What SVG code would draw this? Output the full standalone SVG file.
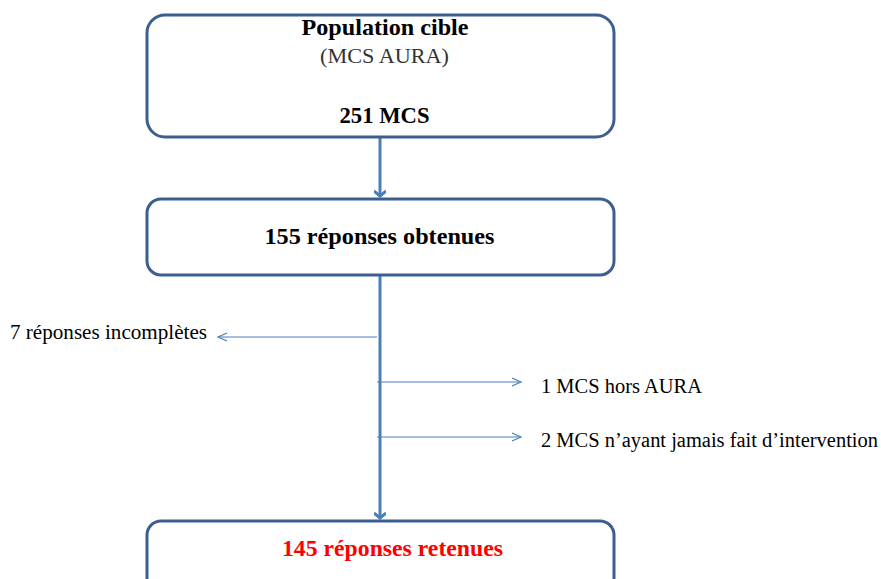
<svg xmlns="http://www.w3.org/2000/svg" width="881" height="579" viewBox="0 0 881 579">
<style>
.box{fill:#fff;stroke:#3d5f8f;stroke-width:3}
.t{font-family:"Liberation Serif",serif;fill:#000}
.b{font-weight:bold;font-size:23px}
.s{font-size:20px}
.main{stroke:#4a7ebb;stroke-width:3;fill:none}
.thin{stroke:#4a7ebb;stroke-width:1.2;fill:none}
</style>
<defs>
<marker id="ah" markerWidth="12" markerHeight="12" refX="6" refY="6" orient="auto" markerUnits="userSpaceOnUse" viewBox="0 0 12 12">
<path d="M1,0 L6,6 L1,12" fill="none" stroke="#4a7ebb" stroke-width="3"/>
</marker>
<marker id="as" markerWidth="12" markerHeight="12" refX="10" refY="5" orient="auto" markerUnits="userSpaceOnUse" viewBox="0 0 12 10">
<path d="M1,1 L10,5 L1,9" fill="none" stroke="#4a7ebb" stroke-width="1.2"/>
</marker>
</defs>
<g id="connectors">
<line class="main" x1="380" y1="138" x2="380" y2="196" marker-end="url(#ah)"/>
<line class="main" x1="380" y1="276" x2="380" y2="518" marker-end="url(#ah)"/>
<line class="thin" x1="377" y1="337" x2="218" y2="337" marker-end="url(#as)"/>
<line class="thin" x1="377" y1="382" x2="521" y2="382" marker-end="url(#as)"/>
<line class="thin" x1="377" y1="437" x2="521" y2="437" marker-end="url(#as)"/>
</g>
<g id="n1">
<rect class="box" x="147" y="15" width="467" height="122" rx="18"/>
<text class="t b" x="385" y="35" text-anchor="middle" textLength="167" lengthAdjust="spacingAndGlyphs">Population cible</text>
<text class="t s" x="384.5" y="63" text-anchor="middle" style="fill:#333" textLength="129" lengthAdjust="spacingAndGlyphs">(MCS AURA)</text>
<text class="t b" x="384.5" y="123" text-anchor="middle" textLength="90" lengthAdjust="spacingAndGlyphs">251 MCS</text>
</g>
<g id="n2">
<rect class="box" x="147" y="199" width="467" height="76" rx="14"/>
<text class="t b" x="379.5" y="244" text-anchor="middle" textLength="230" lengthAdjust="spacingAndGlyphs">155 réponses obtenues</text>
</g>
<g id="n3">
<rect class="box" x="147" y="521" width="467" height="76" rx="14"/>
<text class="t b" x="392.5" y="556" text-anchor="middle" style="fill:#ff0000" textLength="221" lengthAdjust="spacingAndGlyphs">145 réponses retenues</text>
</g>
<g id="labels">
<text class="t s" x="10" y="339" textLength="197" lengthAdjust="spacingAndGlyphs">7 réponses incomplètes</text>
<text class="t s" x="541" y="393" textLength="161" lengthAdjust="spacingAndGlyphs">1 MCS hors AURA</text>
<text class="t s" x="541" y="447" textLength="337" lengthAdjust="spacingAndGlyphs">2 MCS n’ayant jamais fait d’intervention</text>
</g>
</svg>
